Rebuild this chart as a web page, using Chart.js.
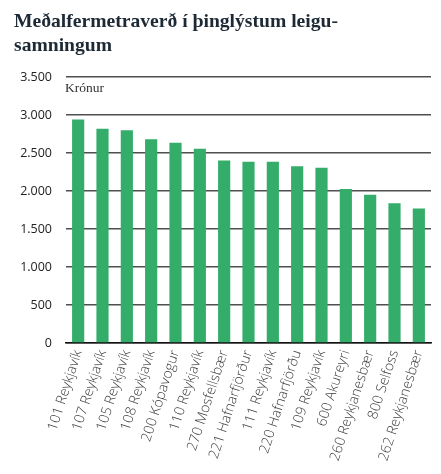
<!DOCTYPE html>
<html><head><meta charset="utf-8">
<script src="https://cdn.jsdelivr.net/npm/chart.js@4"></script>
<style>html,body{margin:0;padding:0;background:#fff}#wrap{width:441px;height:474px;position:relative}</style>
</head><body><div id="wrap"><canvas id="c"></canvas></div>
<script>
const titleLines = ['Meðalfermetraverð í þinglýstum leigu-', 'samningum'];
const unitLabel = 'Krónur';
const categories = ['101 Reykjavík','107 Reykjavík','105 Reykjavík','108 Reykjavík','200 Kópavogur','110 Reykjavík','270 Mosfellsbær','221 Hafnarfjörður','111 Reykjavík','220 Hafnarfjörðu','109 Reykjavík','600 Akureyri','260 Reykjanesbær','800 Selfoss','262 Reykjanesbær'];
const values = [2940, 2820, 2800, 2680, 2635, 2555, 2400, 2385, 2385, 2325, 2305, 2025, 1950, 1840, 1770];
const yTickValues = [0, 500, 1000, 1500, 2000, 2500, 3000, 3500];
const yTickLabels = ['0', '500', '1.000', '1.500', '2.000', '2.500', '3.000', '3.500'];

const titlePlugin = {
  id: 'customTitle',
  afterDraw(chart) {
    const ctx = chart.ctx;
    ctx.save();
    ctx.fillStyle = '#1d2a35';
    ctx.textBaseline = 'alphabetic';
    ctx.textAlign = 'left';
    ctx.font = 'bold 19px "Liberation Serif"';
    const w = ctx.measureText(titleLines[0]).width;
    const size = 19 * 324 / w;
    ctx.font = 'bold ' + size.toFixed(2) + 'px "Liberation Serif"';
    ctx.fillText(titleLines[0], 14, 27);
    ctx.fillText(titleLines[1], 14, 51);
    ctx.font = '13.5px "Liberation Serif"';
    ctx.fillStyle = '#333';
    ctx.fillText(unitLabel, chart.chartArea.left - 1, chart.chartArea.top + 15);
    ctx.restore();
  }
};

new Chart(document.getElementById('c'), {
  type: 'bar',
  data: {
    labels: categories,
    datasets: [{
      data: values,
      backgroundColor: '#33ad69',
      borderWidth: 0,
      barPercentage: 0.5,
      categoryPercentage: 1.0
    }]
  },
  options: {
    responsive: true,
    maintainAspectRatio: false,
    animation: false,
    devicePixelRatio: 1,
    layout: { padding: { left: 0, right: 10, top: 77, bottom: 0 } },
    plugins: { legend: { display: false }, tooltip: { enabled: false }, title: { display: false } },
    scales: {
      x: {
        grid: { display: false, drawTicks: false },
        border: { display: true, color: '#111', width: 1.5 },
        ticks: {
          color: '#3a3a3a',
          font: { family: '"Open Sans"', size: 14, weight: '300' },
          minRotation: 72, maxRotation: 72,
          padding: 5,
          autoSkip: false
        },
        afterFit(s) { s.height = 131; }
      },
      y: {
        min: 0, max: 3500,
        afterBuildTicks(s) { s.ticks = yTickValues.map(v => ({ value: v })); },
        grid: { color: '#4f4f4f', lineWidth: 1.5, drawTicks: false },
        border: { display: false },
        ticks: {
          color: '#222',
          font: { family: '"Open Sans"', size: 12.5 },
          padding: 14,
          callback(v) { const i = yTickValues.indexOf(v); return i >= 0 ? yTickLabels[i] : ''; }
        },
        afterFit(s) { s.width = 66; }
      }
    }
  },
  plugins: [titlePlugin]
});
</script>
</body></html>
